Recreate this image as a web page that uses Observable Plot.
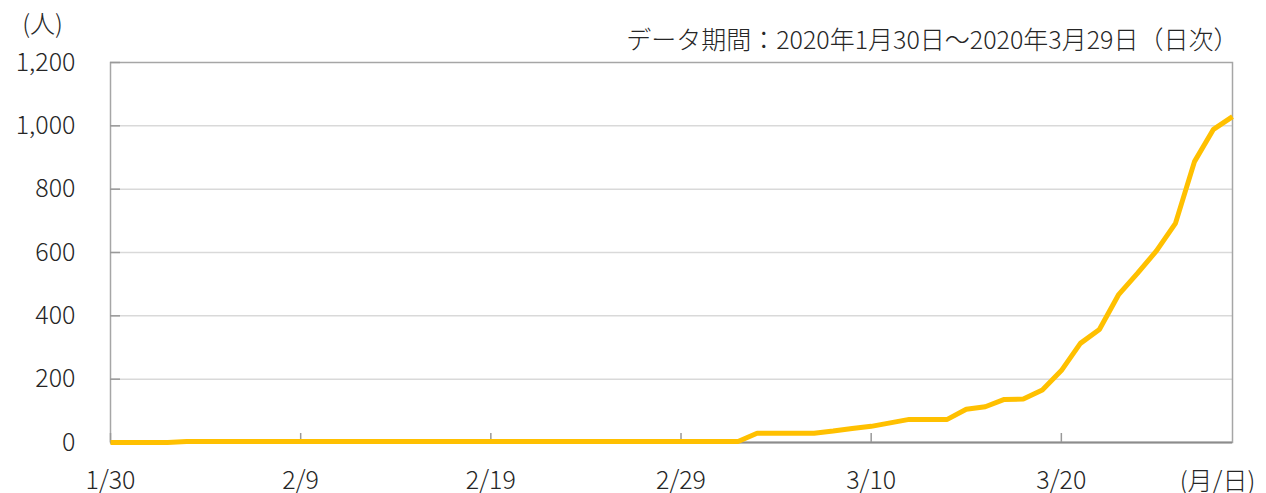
<!DOCTYPE html>
<html><head><meta charset="utf-8">
<script src="https://cdn.jsdelivr.net/npm/d3@7"></script>
<script src="https://cdn.jsdelivr.net/npm/@observablehq/plot@0.6"></script>
<style>body{margin:0;background:#fff} svg{display:block}</style>
</head><body><div id="chart"></div>
<script>
// Daily series 2020-01-30 .. 2020-03-29 (60 days)
const days = d3.utcDay.range(new Date(Date.UTC(2020, 0, 30)), new Date(Date.UTC(2020, 2, 30)));
const cases = [
  0, 0, 0, 0, 3, 3, 3, 3, 3, 3,
  3, 3, 3, 3, 3, 3, 3, 3, 3, 3,
  3, 3, 3, 3, 3, 3, 3, 3, 3, 3,
  3, 3, 3, 3, 29, 29, 29, 29, 36, 44,
  51, 62, 73, 73, 73, 105, 113, 136, 137, 166,
  227, 313, 357, 466, 534, 605, 692, 887, 989, 1029
];
const xTickLabels = ["1/30", "2/9", "2/19", "2/29", "3/10", "3/20"];
const yTicks = [0, 200, 400, 600, 800, 1000, 1200];
const gridValues = [200, 400, 600, 800, 1000];
const unitY = "(人)";
const unitX = "(月/日)";
const subtitle = "データ期間：2020年1月30日～2020年3月29日（日次）";

const fmtDay = d => `${d.getUTCMonth() + 1}/${d.getUTCDate()}`;
const data = days.map((d, i) => ({date: d, value: cases[i]}));
const tickDates = days.filter(d => xTickLabels.includes(fmtDay(d)));

const W = 1266, H = 493, mL = 110, mR = 34, mT = 62, mB = 51;
const frameW = W - mL - mR, frameH = H - mT - mB;
const FS = 25;

const chart = Plot.plot({
  width: W, height: H,
  marginLeft: mL, marginRight: mR, marginTop: mT, marginBottom: mB,
  style: {fontFamily: "'Noto Sans CJK JP', 'Noto Sans', sans-serif", fontSize: FS + "px", fontWeight: 300, color: "#262626", background: "#fff"},
  x: {type: "utc", domain: [days[0], days[days.length - 1]]},
  y: {domain: [0, 1200]},
  marks: [
    Plot.gridY(gridValues, {stroke: "#d9d9d9", strokeOpacity: 1, strokeWidth: 1.5}),
    Plot.frame({stroke: "#a6a6a6", strokeWidth: 1.5}),
    Plot.ruleY([0], {stroke: "#8c8c8c", strokeWidth: 2}),
    Plot.tickY(yTicks, {y: d => d, insetRight: frameW - 10, stroke: "#999", strokeWidth: 1.5}),
    Plot.tickX(tickDates, {x: d => d, insetTop: frameH - 9, stroke: "#999", strokeWidth: 1.5}),
    Plot.axisY(yTicks, {tickSize: 0, tickPadding: 35, tickFormat: d3.format(","), label: null, fontSize: FS}),
    Plot.axisX(tickDates, {tickSize: 0, tickPadding: 29, tickFormat: fmtDay, label: null, fontSize: FS}),
    Plot.lineY(data, {x: "date", y: "value", stroke: "#FFC000", strokeWidth: 5, strokeLinejoin: "miter", strokeLinecap: "butt"}),
    Plot.text([unitY], {text: d => d, frameAnchor: "top-left", dx: -68, dy: -38, textAnchor: "middle", lineAnchor: "middle", fontSize: FS, fill: "#262626"}),
    Plot.text([subtitle], {text: d => d, frameAnchor: "top-right", dx: 6, dy: -22, textAnchor: "end", lineAnchor: "middle", fontSize: FS, fill: "#262626"}),
    Plot.text([unitX], {text: d => d, frameAnchor: "bottom-right", dx: -15, dy: 39, textAnchor: "middle", lineAnchor: "middle", fontSize: FS, fill: "#262626"})
  ]
});
document.getElementById("chart").appendChild(chart);
</script>
</body></html>
